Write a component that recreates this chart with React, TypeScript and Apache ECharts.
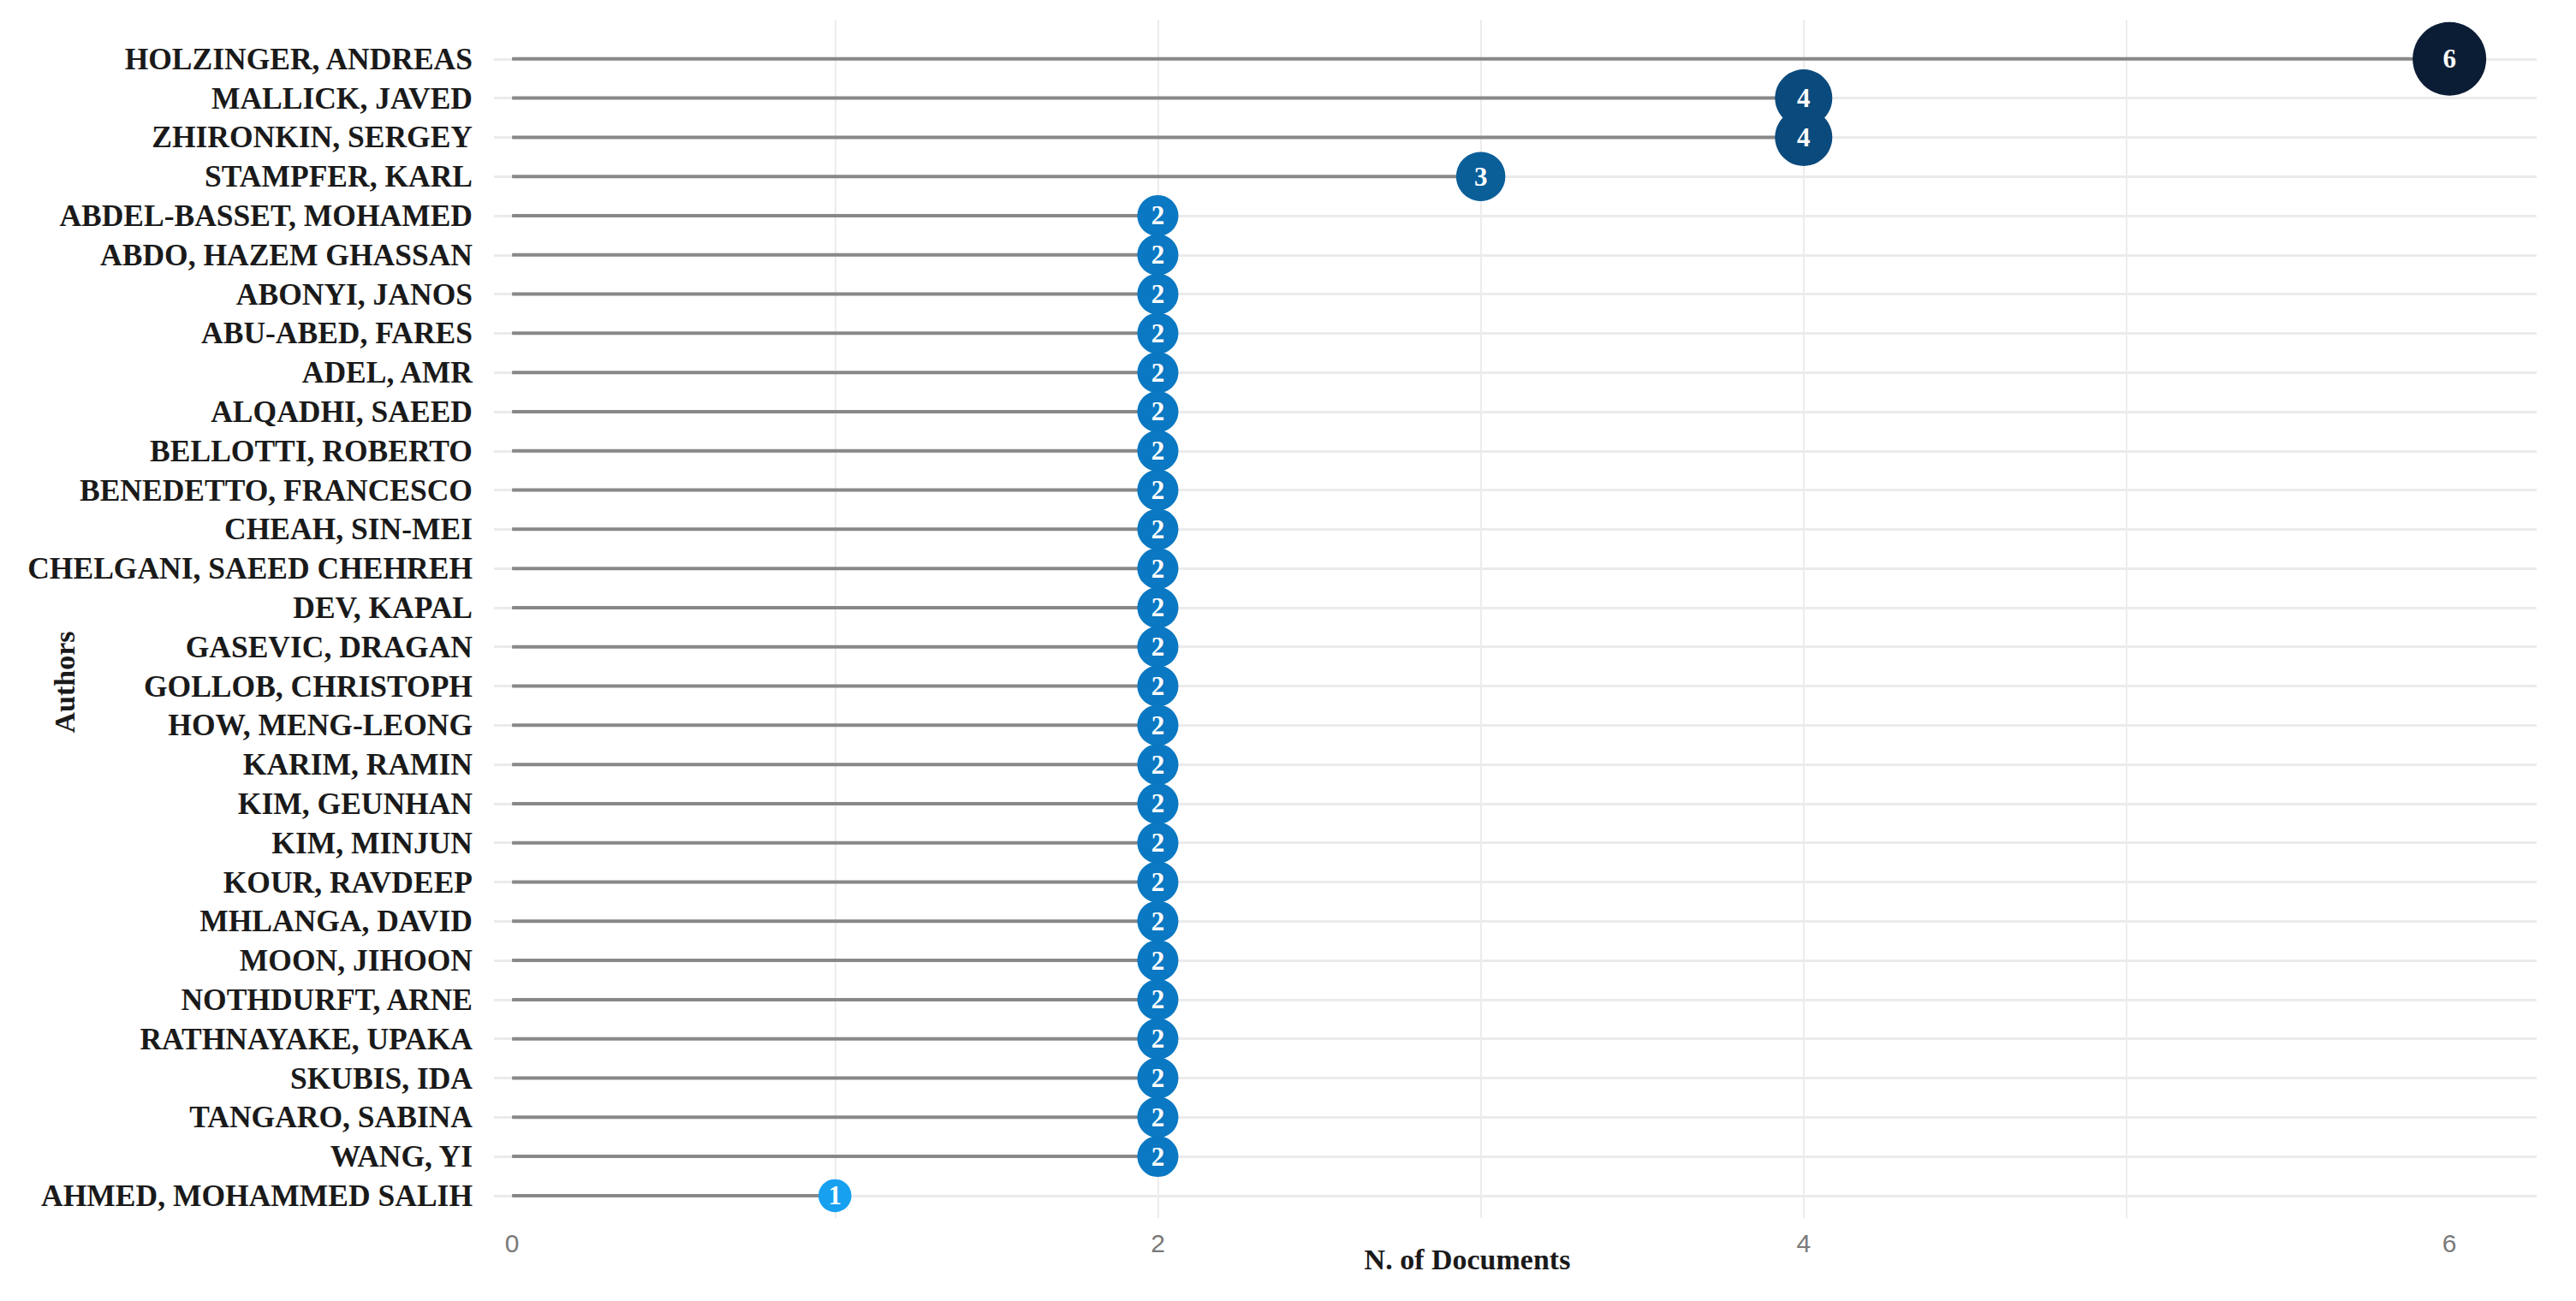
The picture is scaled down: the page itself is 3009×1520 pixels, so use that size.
import React, { useEffect, useRef } from "react";
import * as echarts from "echarts";

const authors = [
  "HOLZINGER, ANDREAS",
  "MALLICK, JAVED",
  "ZHIRONKIN, SERGEY",
  "STAMPFER, KARL",
  "ABDEL-BASSET, MOHAMED",
  "ABDO, HAZEM GHASSAN",
  "ABONYI, JANOS",
  "ABU-ABED, FARES",
  "ADEL, AMR",
  "ALQADHI, SAEED",
  "BELLOTTI, ROBERTO",
  "BENEDETTO, FRANCESCO",
  "CHEAH, SIN-MEI",
  "CHELGANI, SAEED CHEHREH",
  "DEV, KAPAL",
  "GASEVIC, DRAGAN",
  "GOLLOB, CHRISTOPH",
  "HOW, MENG-LEONG",
  "KARIM, RAMIN",
  "KIM, GEUNHAN",
  "KIM, MINJUN",
  "KOUR, RAVDEEP",
  "MHLANGA, DAVID",
  "MOON, JIHOON",
  "NOTHDURFT, ARNE",
  "RATHNAYAKE, UPAKA",
  "SKUBIS, IDA",
  "TANGARO, SABINA",
  "WANG, YI",
  "AHMED, MOHAMMED SALIH",
];

const docs = [6, 4, 4, 3, 2, 2, 2, 2, 2, 2, 2, 2, 2, 2, 2, 2, 2, 2, 2, 2, 2, 2, 2, 2, 2, 2, 2, 2, 2, 1];

const xTickLabels = [0, 2, 4, 6];
const xGridValues = [0, 1, 2, 3, 4, 5, 6];
const colorRamp = ["#17a0f0", "#0a78c2", "#0b5f99", "#0b4a7c", "#0a3458", "#0b1d35"];

const serif = "'Liberation Serif', 'Times New Roman', 'DejaVu Serif', serif";

export default function App() {
  const ref = useRef<HTMLDivElement>(null);

  useEffect(() => {
    if (!ref.current) return;
    const chart = echarts.init(ref.current, null, { renderer: "svg" });
    const points = docs.map((v, i) => [v, i]);

    chart.setOption({
      animation: false,
      backgroundColor: "#ffffff",
      grid: { left: 577, right: 46, top: 23, bottom: 97, containLabel: false },
      xAxis: {
        type: "value",
        min: -0.056,
        max: 6.27,
        axisLine: { show: false },
        axisTick: { show: false, customValues: xGridValues },
        axisLabel: {
          customValues: xTickLabels,
          color: "#7a7a7a",
          fontSize: 30,
          fontFamily: "'Liberation Sans', sans-serif",
          margin: 14,
        },
        splitLine: {
          show: true,
          showMinLine: false,
          showMaxLine: false,
          lineStyle: { color: "#ececec", width: 2 },
        },
      },
      yAxis: {
        type: "value",
        inverse: true,
        min: -1,
        max: 29.57,
        interval: 1,
        axisLine: { show: false },
        axisTick: { show: false },
        axisLabel: {
          formatter: (v: number) => (Number.isInteger(v) && v >= 0 && v < authors.length ? authors[v] : ""),
          color: "#1a1a1a",
          fontSize: 35.5,
          fontWeight: "bold",
          fontFamily: serif,
          margin: 25,
        },
        splitLine: {
          show: true,
          showMinLine: false,
          showMaxLine: false,
          lineStyle: { color: "#ebebeb", width: 3 },
        },
      },
      visualMap: {
        show: false,
        type: "continuous",
        min: 1,
        max: 6,
        dimension: 0,
        seriesIndex: 1,
        inRange: { color: colorRamp },
      },
      series: [
        {
          type: "custom",
          data: points,
          encode: { x: 0, y: 1 },
          z: 2,
          renderItem: (_params: any, api: any) => {
            const v = api.value(0);
            const i = api.value(1);
            const s = api.coord([0, i]);
            const e = api.coord([v, i]);
            return {
              type: "line",
              shape: { x1: s[0], y1: s[1], x2: e[0], y2: e[1] },
              style: { stroke: "#888888", lineWidth: 4 },
            };
          },
        },
        {
          type: "scatter",
          data: points,
          z: 3,
          symbol: "circle",
          symbolSize: (val: number[]) => 29 + 9.5 * val[0],
          itemStyle: { opacity: 1 },
          label: {
            show: true,
            position: "inside",
            formatter: (p: any) => String(p.value[0]),
            color: "#ffffff",
            fontSize: 31,
            fontWeight: "bold",
            fontFamily: serif,
          },
        },
      ],
      graphic: [
        {
          type: "text",
          x: 75,
          y: 797,
          rotation: Math.PI / 2,
          style: {
            text: "Authors",
            fontSize: 34,
            fontWeight: "bold",
            fontFamily: serif,
            fill: "#1a1a1a",
            align: "center",
            verticalAlign: "middle",
          },
        },
        {
          type: "text",
          x: 1714,
          y: 1471,
          style: {
            text: "N. of Documents",
            fontSize: 34,
            fontWeight: "bold",
            fontFamily: serif,
            fill: "#1a1a1a",
            align: "center",
            verticalAlign: "middle",
          },
        },
      ],
    });

    return () => chart.dispose();
  }, []);

  return (
    <div
      ref={ref}
      style={{ position: "fixed", left: 0, top: 0, width: 3009, height: 1520, background: "#fff" }}
    />
  );
}
